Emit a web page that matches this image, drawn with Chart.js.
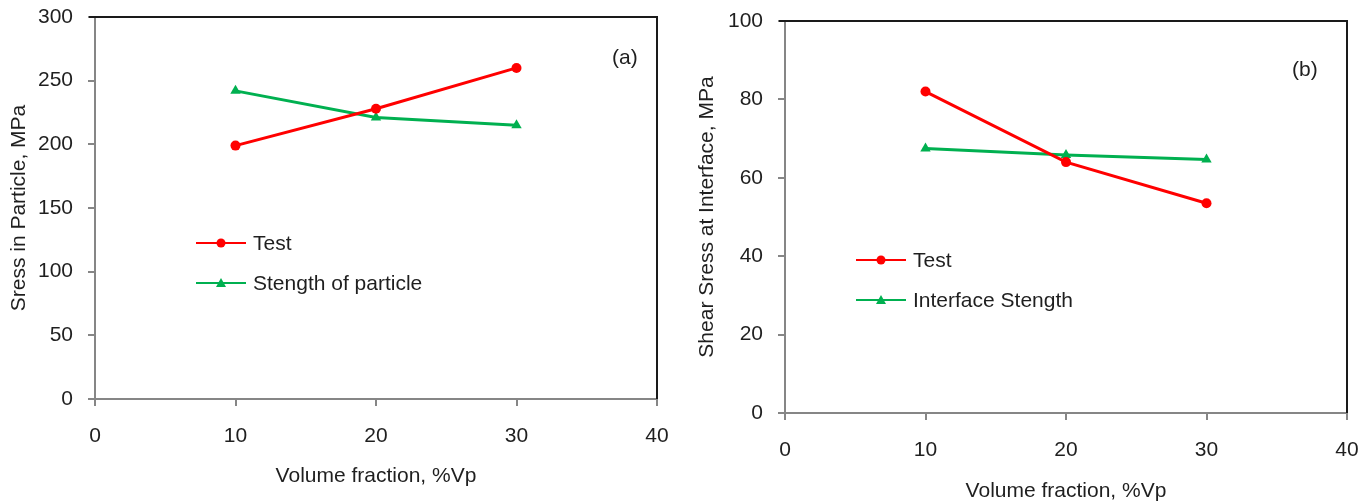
<!DOCTYPE html>
<html>
<head>
<meta charset="utf-8">
<script src="https://cdn.jsdelivr.net/npm/chart.js@4.4.1/dist/chart.umd.min.js"></script>
<style>
  body { margin: 0; background: #fff; }
  #wrapA { position: absolute; left: 0; top: 0; width: 690px; height: 501px; }
  #wrapB { position: absolute; left: 690px; top: 0; width: 681px; height: 501px; }
</style>
</head>
<body>
<div id="wrapA"><canvas id="chartA"></canvas></div>
<div id="wrapB"><canvas id="chartB"></canvas></div>
<script>
// volume fraction, %Vp
var volumeFraction = [10, 20, 30];

// panel (a) - stress in particle, MPa
var particleTest = [199, 228, 260];
var particleStrength = [242, 221, 215];

// panel (b) - shear stress at interface, MPa
var interfaceTest = [82, 64, 53.5];
var interfaceStrength = [67.5, 65.8, 64.7];

var textColor = '#1f1f1f';
var axisColor = '#868686';
var fontFamily = '"Liberation Sans", Arial, sans-serif';

function toPoints(xs, ys) {
    var pts = [];
    for (var i = 0; i < xs.length; i++) {
        pts.push({ x: xs[i], y: ys[i] });
    }
    return pts;
}

// frame on top/right and the legend + panel tag inside the plot
var framePlugin = {
    id: 'frame',
    afterDraw: function (chart, args, opts) {
        var ctx = chart.ctx;
        var a = chart.chartArea;
        ctx.save();
        ctx.strokeStyle = '#1a1a1a';
        ctx.lineWidth = 2;
        ctx.beginPath();
        ctx.moveTo(a.left - 6, a.top);
        ctx.lineTo(a.right, a.top);
        ctx.lineTo(a.right, a.bottom);
        ctx.stroke();

        ctx.font = '21px ' + fontFamily;
        ctx.fillStyle = textColor;
        ctx.textBaseline = 'middle';
        ctx.textAlign = 'left';
        ctx.fillText(opts.tag, opts.tagX, opts.tagY);

        chart.data.datasets.forEach(function (ds, i) {
            var y = opts.legendY + i * 40;
            var x0 = opts.legendX;
            ctx.strokeStyle = ds.borderColor;
            ctx.lineWidth = 2;
            ctx.beginPath();
            ctx.moveTo(x0, y);
            ctx.lineTo(x0 + 50, y);
            ctx.stroke();
            ctx.fillStyle = ds.backgroundColor;
            ctx.beginPath();
            if (ds.pointStyle === 'triangle') {
                ctx.moveTo(x0 + 25, y - 5);
                ctx.lineTo(x0 + 30, y + 4);
                ctx.lineTo(x0 + 20, y + 4);
                ctx.closePath();
            } else {
                ctx.arc(x0 + 25, y, 4.5, 0, Math.PI * 2);
            }
            ctx.fill();
            ctx.fillStyle = textColor;
            ctx.fillText(ds.label, x0 + 57, y + 1);
        });
        ctx.restore();
    }
};

function makeChart(id, cfg) {
    var ctx = document.getElementById(id).getContext('2d');
    return new Chart(ctx, {
        type: 'line',
        data: {
            datasets: [{
                label: 'Test',
                data: toPoints(volumeFraction, cfg.test),
                borderColor: '#ff0000',
                backgroundColor: '#ff0000',
                borderWidth: 3,
                pointStyle: 'circle',
                pointRadius: 5,
                pointBorderWidth: 0
            }, {
                label: cfg.strengthLabel,
                data: toPoints(volumeFraction, cfg.strength),
                borderColor: '#00b050',
                backgroundColor: '#00b050',
                borderWidth: 3,
                pointStyle: 'triangle',
                pointRadius: 6,
                pointBorderWidth: 0
            }]
        },
        options: {
            responsive: true,
            maintainAspectRatio: false,
            animation: false,
            layout: { padding: { left: 0, top: cfg.top, right: cfg.right, bottom: 0 } },
            plugins: {
                legend: { display: false },
                tooltip: { enabled: false },
                frame: cfg.frame
            },
            scales: {
                x: {
                    type: 'linear',
                    min: 0,
                    max: 40,
                    ticks: { stepSize: 10, color: textColor, padding: 18, font: { size: 21, family: fontFamily } },
                    grid: { drawOnChartArea: false, drawTicks: true, tickLength: 7, color: axisColor, lineWidth: 2 },
                    border: { display: true, color: axisColor, width: 2 },
                    title: { display: true, text: 'Volume fraction, %Vp', color: textColor, font: { size: 21, family: fontFamily }, padding: { bottom: cfg.xTitlePad } },
                    afterFit: function (scale) {
                        scale.height = cfg.xHeight;
                        scale.paddingLeft = 0;
                        scale.paddingRight = 0;
                    }
                },
                y: {
                    min: 0,
                    max: cfg.yMax,
                    ticks: { stepSize: cfg.yStep, color: textColor, padding: 15, font: { size: 21, family: fontFamily } },
                    grid: { drawOnChartArea: false, drawTicks: true, tickLength: 7, color: axisColor, lineWidth: 2 },
                    border: { display: true, color: axisColor, width: 2 },
                    title: { display: true, text: cfg.yTitle, color: textColor, font: { size: 21, family: fontFamily }, padding: { top: cfg.yTitlePad } },
                    afterFit: function (scale) {
                        scale.width = 95;
                        scale.paddingTop = 0;
                        scale.paddingBottom = 0;
                    }
                }
            }
        },
        plugins: [framePlugin]
    });
}

makeChart('chartA', {
    test: particleTest,
    strength: particleStrength,
    strengthLabel: 'Stength of particle',
    yTitle: 'Sress in Particle, MPa',
    yMax: 300,
    yStep: 50,
    top: 17,
    right: 33,
    xHeight: 102,
    xTitlePad: 12,
    yTitlePad: 7,
    frame: { tag: '(a)', tagX: 612, tagY: 58, legendX: 196, legendY: 243 }
});

makeChart('chartB', {
    test: interfaceTest,
    strength: interfaceStrength,
    strengthLabel: 'Interface Stength',
    yTitle: 'Shear Sress at Interface, MPa',
    yMax: 100,
    yStep: 20,
    top: 21,
    right: 24,
    xHeight: 88,
    xTitlePad: -3,
    yTitlePad: 5,
    frame: { tag: '(b)', tagX: 602, tagY: 70, legendX: 166, legendY: 260 }
});
</script>
</body>
</html>
